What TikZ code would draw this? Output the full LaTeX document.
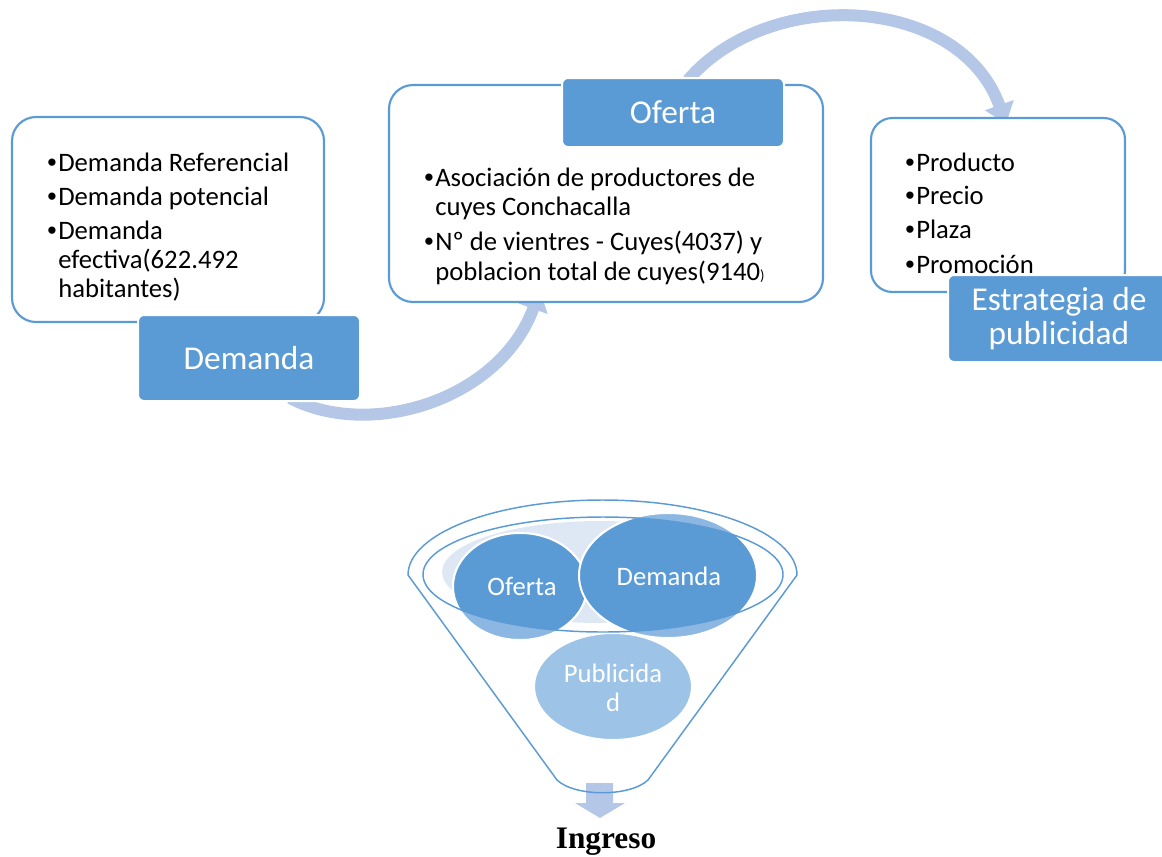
\documentclass[tikz,border=0pt]{standalone}
\usepackage{fontspec}
\setmainfont{Carlito}
\newfontfamily\ingfont{Liberation Serif}
\newfontfamily\bulfont{Liberation Sans}
\usetikzlibrary{arrows.meta,shapes.geometric}
\definecolor{blueM}{RGB}{91,155,213}
\definecolor{blueL}{RGB}{140,183,226}
\definecolor{pubC}{RGB}{157,195,230}
\definecolor{arrowC}{RGB}{180,199,231}
\definecolor{paleC}{RGB}{222,232,245}
\newcommand\mybul{\makebox[8.25pt][l]{\bulfont •}}
\begin{document}
\begin{tikzpicture}[x=0.75pt,y=-0.75pt,
  tbox/.style={draw=blueM, line width=1.6pt, fill=white, rounded corners=18pt, inner sep=0pt},
  lbox/.style={draw=white, line width=1.5pt, fill=blueM, rounded corners=4.5pt, text=white,
    font=\fontsize{25}{25.5}\selectfont, align=center, inner sep=0pt, minimum width=166.5pt},
  bl/.style={anchor=base west, inner sep=0pt, font=\fontsize{20}{24}\selectfont},
  bigarrow/.style={draw=arrowC, line width=9pt, -{Triangle[width=22pt,length=15pt]}},
  circ/.style={ellipse, draw=white, line width=1.5pt, inner sep=0pt},
  ctext/.style={text=white, font=\fontsize{20}{21.75}\selectfont, align=center, inner sep=0pt},
  fun/.style={draw=blueM, line width=1.1pt}
]
\useasboundingbox (0,0) rectangle (1162,856);

% connector arrows (drawn first, partly hidden by boxes)
\coordinate (a1s) at (290,398);
\coordinate (a1e) at (540,290);
\coordinate (a2s) at (688,80);
\coordinate (a2e) at (1006,124);
\draw[bigarrow] (a1s) .. controls (370,440) and (500,400) .. (a1e);
\draw[bigarrow] (a2s) .. controls (770,-15) and (960,-5) .. (a2e);

% text boxes
\node[tbox, minimum width=234pt, minimum height=153.75pt] (dbox) at (168,219.5) {};
\node[tbox, minimum width=325.5pt, minimum height=162.75pt] (obox) at (606,193.5) {};
\node[tbox, rounded corners=16pt, minimum width=190.5pt, minimum height=130.5pt] (ebox) at (998,205) {};

% bullet texts
\node[bl] (d1) at (47,171) {\mybul Demanda Referencial};
\node[bl] (d2) at (47,205) {\mybul Demanda potencial};
\node[bl] (d3) at (47,239) {\mybul Demanda};
\node[bl] (d4) at (58,268) {efectiva(622.492};
\node[bl] (d5) at (58,297) {habitantes)};

\node[bl] (o1) at (424,186) {\mybul Asociación de productores de};
\node[bl] (o2) at (435,215) {cuyes Conchacalla};
\node[bl] (o3) at (424,250) {\mybul Nº de vientres - Cuyes(4037) y};
\node[bl] (o4) at (435,280) {poblacion total de cuyes(9140{\fontsize{11}{12}\selectfont)}};

\node[bl] (e1) at (905,171) {\mybul Producto};
\node[bl] (e2) at (905,204) {\mybul Precio};
\node[bl] (e3) at (905,238) {\mybul Plaza};
\node[bl] (e4) at (905,273) {\mybul Promoción};

% labels
\node[lbox, minimum height=64.5pt] (dlab) at (249,358) {Demanda};
\node[lbox, minimum height=51.75pt] (olab) at (673,112.5) {Oferta};
\node[lbox, minimum height=65.25pt] (elab) at (1059,318.5) {Estrategia de\\publicidad};

% funnel
\fill[paleC] (600,572) ellipse [x radius=118.5pt, y radius=38.25pt];
\node[circ, fill=blueL, minimum width=100.5pt, minimum height=80.25pt] (cof) at (520,586.5) {};
\node[circ, fill=blueL, minimum width=133.5pt, minimum height=93.75pt] (cde) at (668,575.5) {};
\begin{scope}
  \clip (603,574.5) ellipse [x radius=135pt, y radius=43.125pt];
  \node[circ, fill=blueM, minimum width=100.5pt, minimum height=80.25pt] at (520,586.5) {};
  \node[circ, fill=blueM, minimum width=133.5pt, minimum height=93.75pt] at (668,575.5) {};
\end{scope}
\node[circ, fill=pubC, minimum width=118.5pt, minimum height=80.25pt] (cpu) at (613,686.5) {};
\node[ctext] (tof) at (522,586) {Oferta};
\node[ctext] (tde) at (669,576) {Demanda};
\node[ctext] (tpu) at (613,688) {Publicida\\d};

% down arrow
\fill[arrowC] (586,783) -- (613,783) -- (613,803) -- (625,803) -- (600,818) -- (575,803) -- (586,803) -- cycle;

\draw[fun] (603,574.5) ellipse [x radius=135pt, y radius=43.125pt];
\draw[fun] (408,575) arc [start angle=180, end angle=0, x radius=145.875pt, y radius=56.25pt]
  -- (648,780) .. controls (630,797) and (575,797) .. (557,780) -- cycle;

\node[font=\ingfont\bfseries\fontsize{23.5}{26}\selectfont, inner sep=0pt] (ing) at (606,841.5) {Ingreso};
\end{tikzpicture}
\end{document}
